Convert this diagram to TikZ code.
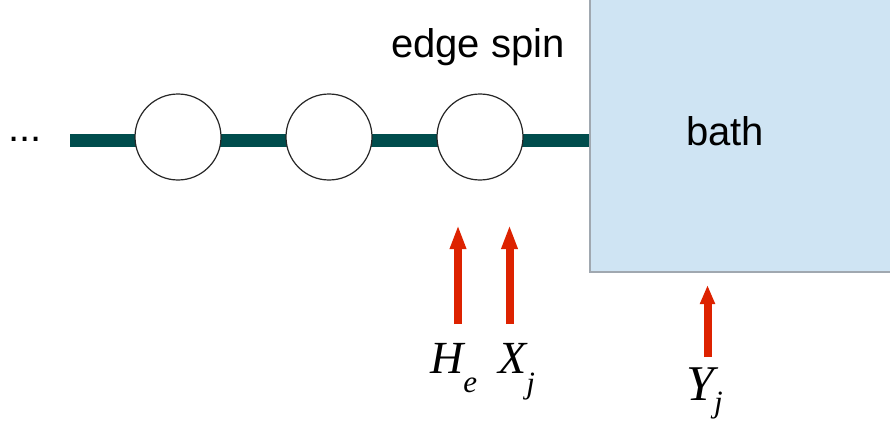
\documentclass[tikz,border=0pt]{standalone}
\usepackage{fontspec}
\setmainfont{Liberation Serif}
\setsansfont{Liberation Sans}
\usetikzlibrary{arrows.meta}
\definecolor{barcol}{HTML}{004D4D}
\definecolor{bathfill}{HTML}{CFE4F3}
\definecolor{bathline}{HTML}{A0A8B0}
\definecolor{arrred}{HTML}{DD2200}
\begin{document}
\begin{tikzpicture}[x=1pt,y=-1pt,
  spin/.style={circle,draw=black!85,line width=1.2pt,fill=white,minimum size=86pt,inner sep=0pt},
  bar/.style={barcol,line width=13pt},
  sanslab/.style={font=\sffamily\fontsize{40}{42}\selectfont,inner sep=0pt},
  mathlab/.style={font=\rmfamily\itshape\fontsize{46}{46}\selectfont,inner sep=0pt,anchor=base west},
  field/.style={arrred,line width=8pt,-{Triangle[width=15pt,length=24pt]}}]
\useasboundingbox (0,0) rectangle (890,425);
% bath
\node[draw=bathline,line width=1.5pt,fill=bathfill,anchor=north west,minimum width=320pt,minimum height=281pt,inner sep=0pt] (bath) at (589,-10) {};
\node[sanslab,anchor=base] (bathlab) at (725,145) {bath};
% chain
\coordinate (left) at (70,140);
\coordinate (right) at (589,140);
\draw[bar] (left) -- (right);
\node[spin] (s1) at (178,137) {};
\node[spin] (s2) at (329,137) {};
\node[spin] (s3) at (480,137) {};
\node[sanslab,anchor=base west] (dots) at (8,141) {...};
\node[sanslab,anchor=base] (edge) at (478,58) {edge spin};
% field arrows
\coordinate (a1s) at (458,324);
\coordinate (a1e) at (458,225);
\coordinate (a2s) at (509.5,324);
\coordinate (a2e) at (509.5,225);
\coordinate (a3s) at (707.5,357);
\coordinate (a3e) at (707.5,285);
\draw[field] (a1s) -- (a1e);
\draw[field] (a2s) -- (a2e);
\draw[field,-{Triangle[width=14pt,length=19pt]}] (a3s) -- (a3e);
% labels
\node[mathlab] (he) at (430,373) {H\raisebox{-19pt}{\fontsize{31}{31}\selectfont e}};
\node[mathlab] (xj) at (498,373) {X\raisebox{-20pt}{\fontsize{31}{31}\selectfont j}};
\node[mathlab,font=\rmfamily\itshape\fontsize{50}{50}\selectfont] (yj) at (686,400) {Y\raisebox{-12pt}{\fontsize{31}{31}\selectfont j}};
\end{tikzpicture}
\end{document}
